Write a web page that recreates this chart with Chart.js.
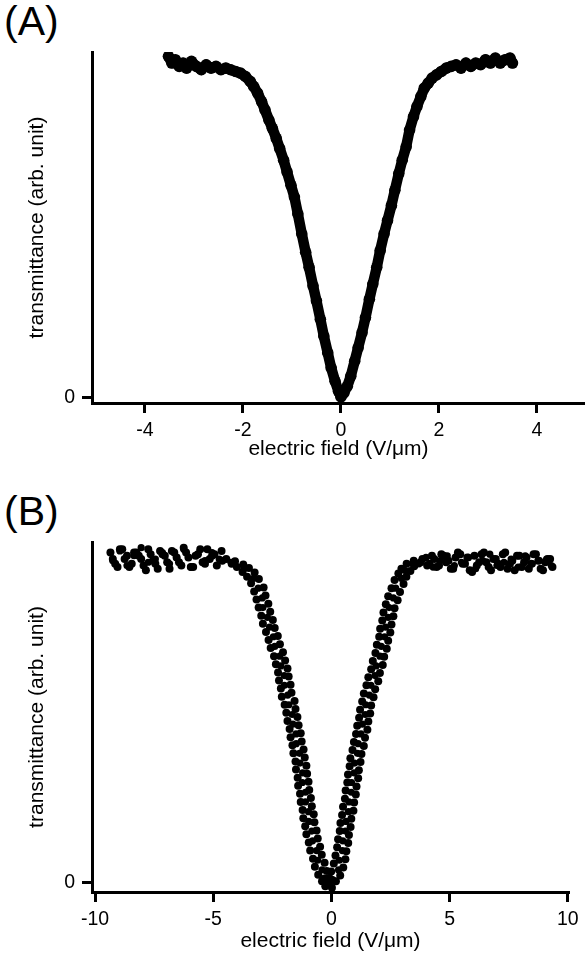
<!DOCTYPE HTML>
<html>
<head>
  <script src="https://cdn.jsdelivr.net/npm/chart.js"></script>
  <style>
    body { margin: 0; background: #fff; }
    #wrap { position: relative; width: 585px; height: 958px; }
    canvas { position: absolute; left: 0; }
    .panel { position: absolute; left: 4px; font: 41px "Liberation Sans", Arial, sans-serif; line-height: 40px; color: #000; }
  </style>
</head>
<body>
  <div id="wrap">
    <div class="panel" style="top:1px">(A)</div>
    <canvas id="chartA" width="585" height="479" style="top:0"></canvas>
    <div class="panel" style="top:491px">(B)</div>
    <canvas id="chartB" width="585" height="479" style="top:479px"></canvas>
  </div>

  <script>
    // tick labels
    var aTicks = [-4, -2, 0, 2, 4];
    var bTicks = [-10, -5, 0, 5, 10];
    var yTicks = [0];

    // panel A: field (V/um) and transmittance
    var aField = [-3.52, -3.45, -3.38, -3.3, -3.22, -3.15, -3.05, -2.95, -2.85, -2.75, -2.65, -2.55, -2.45, -2.35, -2.25, -2.15, -2.05, -1.95, -1.85, -1.78,
      -1.7, -1.62, -1.55, -1.47, -1.4, -1.32, -1.25, -1.17, -1.1, -1.02, -0.95, -0.88, -0.8, -0.72, -0.65, -0.57, -0.5, -0.42, -0.35, -0.27,
      -0.2, -0.12, -0.05, 0.0, 0.06, 0.13, 0.2, 0.28, 0.35, 0.43, 0.5, 0.58, 0.65, 0.73, 0.8, 0.88, 0.95, 1.03, 1.1, 1.18,
      1.25, 1.33, 1.4, 1.48, 1.55, 1.63, 1.7, 1.78, 1.86, 1.95, 2.05, 2.15, 2.25, 2.35, 2.45, 2.55, 2.65, 2.75, 2.85, 2.95,
      3.05, 3.15, 3.25, 3.35, 3.45, 3.5];
    var aTrans = [1.02, 1.0, 1.01, 0.99, 1.0, 0.985, 1.005, 0.99, 0.98, 0.995, 0.985, 0.99, 0.98, 0.985, 0.98, 0.975, 0.97, 0.96, 0.945, 0.93,
      0.91, 0.885, 0.86, 0.83, 0.805, 0.775, 0.745, 0.71, 0.675, 0.635, 0.6, 0.55, 0.49, 0.435, 0.39, 0.335, 0.29, 0.235, 0.185, 0.135,
      0.09, 0.05, 0.02, 0.003, 0.015, 0.035, 0.065, 0.11, 0.15, 0.195, 0.24, 0.295, 0.34, 0.39, 0.44, 0.49, 0.53, 0.575, 0.62, 0.67,
      0.71, 0.75, 0.8, 0.84, 0.87, 0.9, 0.925, 0.94, 0.955, 0.965, 0.975, 0.985, 0.99, 0.995, 0.985, 1.0, 0.99, 1.0, 0.995, 1.01,
      1.0, 1.015, 1.0, 1.01, 1.015, 1.0];

    // panel B, sweep 1 (negative to positive field)
    var bField1 = [-9.35, -9.15, -8.95, -8.75, -8.55, -8.35, -8.15, -7.95, -7.75, -7.55, -7.35, -7.15, -6.95, -6.75, -6.55, -6.35, -6.15, -5.95, -5.75, -5.55, -5.35, -5.15, -4.95,
      -4.62, -4.22, -4.0, -3.76, -3.57, -3.4, -3.27, -3.17, -3.08, -2.97, -2.9, -2.77, -2.66, -2.57, -2.43, -2.35, -2.26, -2.22, -2.14, -2.1,
      -1.98, -1.91, -1.86, -1.77, -1.73, -1.65, -1.61, -1.52, -1.5, -1.43, -1.41, -1.33, -1.3, -1.22, -1.19, -1.11, -1.06, -0.96, -0.9, -0.78, -0.7, -0.56, -0.4,
      -0.26, -0.1,
      -0.1, -0.01, 0.1, 0.17, 0.24, 0.28, 0.35, 0.38, 0.45, 0.49, 0.57, 0.6, 0.67, 0.7, 0.77, 0.8, 0.89, 0.95, 1.04, 1.09,
      1.17, 1.21, 1.3, 1.37, 1.48, 1.56, 1.68, 1.75, 1.86, 1.92, 2.02, 2.06, 2.15, 2.2, 2.3, 2.4, 2.54, 2.67, 2.83, 2.96, 3.18, 3.48,
      3.85, 4.05, 4.25, 4.45, 4.65, 4.85, 5.05, 5.25, 5.45, 5.65, 5.85, 6.05, 6.25, 6.45, 6.65, 6.85, 7.05, 7.25, 7.45, 7.65, 7.85, 8.05, 8.25, 8.45, 8.65, 8.85, 9.05, 9.25];
    var bTrans1 = [1.02, 0.985, 1.03, 1.0, 0.975, 1.02, 1.01, 0.98, 1.03, 0.995, 0.97, 1.015, 0.99, 1.025, 1.005, 0.98, 1.02, 0.975, 1.01, 1.03, 0.985, 1.0, 1.015,
      0.995, 0.985, 0.975, 0.96, 0.945, 0.925, 0.9, 0.875, 0.85, 0.825, 0.8, 0.775, 0.75, 0.725, 0.7, 0.675, 0.65, 0.625, 0.6, 0.575,
      0.55, 0.525, 0.5, 0.475, 0.45, 0.425, 0.4, 0.375, 0.35, 0.325, 0.3, 0.275, 0.25, 0.225, 0.2, 0.175, 0.15, 0.125, 0.1, 0.075, 0.05, 0.025, 0.005,
      -0.01, 0.0,
      0.015, 0.035, 0.06, 0.085, 0.11, 0.135, 0.16, 0.185, 0.21, 0.235, 0.26, 0.285, 0.31, 0.335, 0.36, 0.385, 0.41, 0.435, 0.46, 0.485,
      0.51, 0.535, 0.56, 0.585, 0.61, 0.635, 0.66, 0.685, 0.71, 0.735, 0.76, 0.785, 0.81, 0.835, 0.86, 0.885, 0.91, 0.935, 0.955, 0.97, 0.985, 0.995,
      1.0, 0.98, 1.01, 0.975, 1.015, 0.99, 0.97, 1.005, 1.015, 0.985, 0.965, 1.01, 0.99, 1.02, 0.975, 1.0, 0.985, 1.015, 0.97, 0.995, 1.01, 0.975, 1.005, 0.985, 1.015, 0.97, 0.99, 1.0];

    // panel B, sweep 2 (positive back to negative field)
    var bField2 = [9.35, 9.15, 8.95, 8.75, 8.55, 8.35, 8.15, 7.95, 7.75, 7.55, 7.35, 7.15, 6.95, 6.75, 6.55, 6.35, 6.15, 5.95, 5.75, 5.55, 5.35, 5.15, 4.95, 4.75, 4.55, 4.35, 4.15,
      3.77, 3.5, 3.34, 3.17, 3.05, 2.9, 2.8, 2.67, 2.62, 2.54, 2.49, 2.4, 2.34, 2.23, 2.17, 2.05, 1.98, 1.85, 1.78, 1.68,
      1.64, 1.56, 1.52, 1.42, 1.37, 1.27, 1.23, 1.16, 1.13, 1.06, 1.03, 0.96, 0.93, 0.84, 0.81, 0.74, 0.71, 0.63, 0.59, 0.5, 0.37, 0.19,
      0.02, -0.16,
      -0.05, -0.2, -0.29, -0.41, -0.48, -0.58, -0.63, -0.72, -0.75, -0.83, -0.87, -0.94, -0.97, -1.03, -1.06, -1.13, -1.18, -1.26, -1.3, -1.39,
      -1.44, -1.52, -1.56, -1.69, -1.73, -1.81, -1.86, -1.96, -2.05, -2.18, -2.27, -2.4, -2.48, -2.59, -2.67, -2.79, -2.87, -3.07, -3.25, -3.49, -3.73, -4.08,
      -4.45, -4.65, -4.85, -5.05, -5.25, -5.45, -5.65, -5.85, -6.05, -6.25, -6.45, -6.65, -6.85, -7.05, -7.25, -7.45, -7.65, -7.85, -8.05, -8.25, -8.45, -8.65, -8.85, -9.05, -9.25];
    var bTrans2 = [0.975, 1.0, 0.965, 0.995, 1.015, 0.97, 0.99, 1.01, 0.965, 0.985, 1.02, 0.975, 1.0, 0.965, 0.99, 1.015, 0.98, 0.96, 1.005, 0.985, 1.02, 0.97, 0.995, 1.01, 0.98, 1.0, 0.985,
      0.99, 0.978, 0.963, 0.945, 0.923, 0.898, 0.873, 0.848, 0.823, 0.798, 0.773, 0.748, 0.723, 0.698, 0.673, 0.648, 0.623, 0.598, 0.573, 0.548,
      0.523, 0.498, 0.473, 0.448, 0.423, 0.398, 0.373, 0.348, 0.323, 0.298, 0.273, 0.248, 0.223, 0.198, 0.173, 0.148, 0.123, 0.098, 0.073, 0.048, 0.023, 0.005,
      -0.015, 0.0,
      0.012, 0.037, 0.062, 0.087, 0.112, 0.137, 0.162, 0.187, 0.212, 0.237, 0.262, 0.287, 0.312, 0.337, 0.362, 0.387, 0.412, 0.437, 0.462, 0.487,
      0.512, 0.537, 0.562, 0.587, 0.612, 0.637, 0.662, 0.687, 0.712, 0.737, 0.762, 0.787, 0.812, 0.837, 0.862, 0.887, 0.912, 0.938, 0.958, 0.972, 0.983, 0.993,
      1.0, 1.025, 0.98, 1.01, 1.03, 0.99, 1.015, 0.975, 1.005, 1.035, 0.99, 1.02, 0.97, 1.01, 1.025, 0.985, 1.015, 0.965, 1.0, 1.02, 0.985, 1.01, 1.03, 0.975, 1.0];

    // panel B, scattered readings lying between the two sweeps
    var bField3 = [-9.25, -8.95, -8.65, -8.35, -8.05, -7.75, -7.45, -7.15, -6.85, -6.55, -6.25, -5.95, -5.65, -5.35, -5.05, -4.75,
      -4.25, -3.7, -3.3, -3.1, -2.93, -2.9, -2.71, -2.62, -2.46, -2.4, -2.19, -2.14, -2.0, -1.99, -1.85, -1.8, -1.66, -1.63,
      -1.5, -1.49, -1.35, -1.33, -1.22, -1.23, -1.1, -1.1, -0.97, -0.96, -0.83, -0.8, -0.63, -0.58, -0.4, -0.3,
      0.05, 0.3, 0.33, 0.46, 0.48, 0.59, 0.62, 0.72, 0.74, 0.84, 0.85, 0.96, 0.98, 1.1, 1.13, 1.25, 1.31,
      1.43, 1.45, 1.6, 1.67, 1.84, 1.89, 2.05, 2.11, 2.25, 2.29, 2.4, 2.44, 2.62, 2.72, 2.96, 3.1, 3.45,
      3.7, 4.0, 4.3, 4.6, 4.9, 5.2, 5.5, 5.8, 6.1, 6.4, 6.7, 7.0, 7.3, 7.6, 7.9, 8.2, 8.5, 8.8, 9.1, 9.3];
    var bTrans3 = [0.995, 1.025, 0.98, 1.01, 1.035, 0.99, 1.0, 1.02, 0.985, 1.005, 1.03, 0.975, 1.015, 0.995, 1.02, 1.0,
      0.99, 0.97, 0.94, 0.91, 0.88, 0.85, 0.82, 0.79, 0.76, 0.73, 0.7, 0.67, 0.64, 0.61, 0.58, 0.55, 0.52, 0.49,
      0.46, 0.43, 0.4, 0.37, 0.34, 0.31, 0.28, 0.25, 0.22, 0.19, 0.16, 0.13, 0.1, 0.07, 0.04, 0.015,
      0.01, 0.04, 0.07, 0.1, 0.13, 0.16, 0.19, 0.22, 0.25, 0.28, 0.31, 0.34, 0.37, 0.4, 0.43, 0.46, 0.49,
      0.52, 0.55, 0.58, 0.61, 0.64, 0.67, 0.7, 0.73, 0.76, 0.79, 0.82, 0.85, 0.88, 0.91, 0.94, 0.965, 0.985,
      0.985, 1.005, 0.975, 0.995, 1.01, 0.98, 0.99, 1.005, 0.97, 0.995, 1.015, 0.98, 0.99, 1.0, 0.975, 1.01, 0.985, 0.995, 1.0, 0.98];

    var FONT = '"Liberation Sans", Arial, sans-serif';

    function toPoints(xs, ys) {
      var pts = [];
      for (var i = 0; i < xs.length && i < ys.length; i++) {
        pts.push({ x: xs[i], y: ys[i] });
      }
      return pts;
    }

    // shared axis setup; p holds the ranges and box sizes for one panel
    function makeOptions(p) {
      return {
        responsive: false,
        animation: false,
        layout: { autoPadding: false, padding: { top: p.top, right: p.right, left: 0, bottom: 0 } },
        plugins: { legend: { display: false }, tooltip: { enabled: false } },
        scales: {
          x: {
            type: 'linear',
            min: p.xMin,
            max: p.xMax,
            afterBuildTicks: function (s) { s.ticks = p.xTicks.map(function (v) { return { value: v }; }); },
            afterFit: function (s) { s.height = p.xHeight; },
            border: { display: true, color: '#000', width: 3 },
            grid: { drawOnChartArea: false, drawTicks: true, tickLength: 10, tickColor: '#000', tickWidth: 3 },
            ticks: { color: '#000', font: { family: FONT, size: 19.5 }, padding: p.xPad, maxRotation: 0, autoSkip: false },
            title: { display: true, text: 'electric field (V/\u03bcm)', color: '#000', font: { family: FONT, size: 21 }, padding: { top: 0, bottom: p.titlePad } }
          },
          y: {
            type: 'linear',
            min: p.yMin,
            max: p.yMax,
            afterBuildTicks: function (s) { s.ticks = yTicks.map(function (v) { return { value: v }; }); },
            afterFit: function (s) { s.width = 92; },
            border: { display: true, color: '#000', width: 3 },
            grid: { drawOnChartArea: false, drawTicks: true, tickLength: 10, tickColor: '#000', tickWidth: 3 },
            ticks: { color: '#000', font: { family: FONT, size: 19.5 }, padding: 7 },
            title: { display: true, text: 'transmittance (arb. unit)', color: '#000', font: { family: FONT, size: 21 }, padding: { top: 25, bottom: 0 } }
          }
        }
      };
    }

    var chartA = new Chart(document.getElementById('chartA').getContext('2d'), {
      type: 'scatter',
      data: {
        datasets: [{
          data: toPoints(aField, aTrans),
          showLine: true,
          borderColor: '#000',
          borderWidth: 10.5,
          borderJoinStyle: 'round',
          borderCapStyle: 'round',
          pointRadius: 5.8,
          pointBackgroundColor: '#000',
          pointBorderWidth: 0
        }]
      },
      options: makeOptions({ top: 52, right: 0, xMin: -5.08, xMax: 4.98, yMin: -0.015, yMax: 1.033,
        xTicks: aTicks, xHeight: 76, xPad: 5.5, titlePad: 16.7 })
    });

    var chartB = new Chart(document.getElementById('chartB').getContext('2d'), {
      type: 'scatter',
      data: {
        datasets: [{
          data: toPoints(bField1, bTrans1),
          pointRadius: 4,
          pointBackgroundColor: '#000',
          pointBorderWidth: 0
        }, {
          data: toPoints(bField2, bTrans2),
          pointRadius: 4,
          pointBackgroundColor: '#000',
          pointBorderWidth: 0
        }, {
          data: toPoints(bField3, bTrans3),
          pointRadius: 3.6,
          pointBackgroundColor: '#000',
          pointBorderWidth: 0
        }]
      },
      options: makeOptions({ top: 63, right: 10, xMin: -10.13, xMax: 10.05, yMin: -0.028, yMax: 1.0525,
        xTicks: bTicks, xHeight: 66, xPad: 6.3, titlePad: 4.4 })
    });
  </script>
</body>
</html>
